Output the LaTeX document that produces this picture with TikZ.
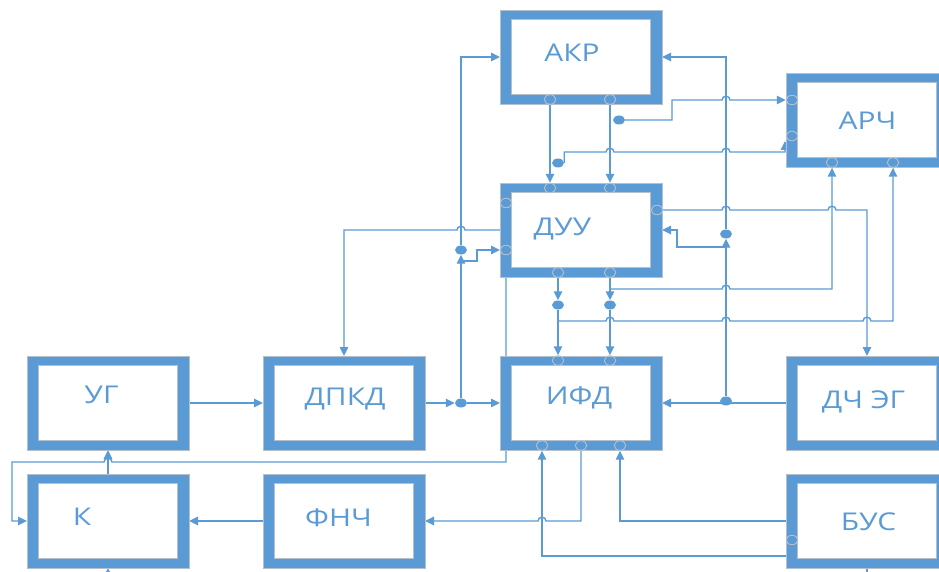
\documentclass[tikz,border=0pt]{standalone}
\usepackage{fontspec}
\newfontfamily\lblfont{Open Sans}
\usetikzlibrary{arrows.meta,shapes.geometric,backgrounds}
\definecolor{bb}{HTML}{5B9BD5}
\definecolor{pg}{HTML}{B4C0CC}
\newcommand\hr[2]{-- ({#1-4},#2) .. controls ({#1-4},{#2-5}) and ({#1+4},{#2-5}) .. ({#1+4},#2)}
\newcommand\hl[2]{-- ({#1+4},#2) .. controls ({#1+4},{#2-5}) and ({#1-4},{#2-5}) .. ({#1-4},#2)}
\newcommand\lb[1]{\scalebox{1.22}[1]{#1}}
\begin{document}
\begin{tikzpicture}[x=1pt,y=-1pt,
  blk/.style={fill=bb, draw=pg, line width=0.4pt, minimum width=162pt, minimum height=94pt,
    inner sep=0pt, outer sep=0pt,
    path picture={\fill[white,draw=pg,line width=0.6pt]
      ([xshift=11.5pt,yshift=-9.5pt]path picture bounding box.north west) rectangle
      ([xshift=-11.5pt,yshift=9.5pt]path picture bounding box.south east);}},
  lbl/.style={text=bb, font=\lblfont\fontsize{24.5}{28}\selectfont, inner sep=0pt,
    text height=17pt, text depth=0pt},
  con/.style={draw=bb, line width=1.4pt},
  arr/.style={con, -{Triangle[length=9pt,width=8.5pt]}},
  port/.style={ellipse, draw=pg, line width=0.9pt, minimum width=11.5pt, minimum height=9.5pt, inner sep=0pt},
  jdot/.style={ellipse, fill=bb, minimum width=12pt, minimum height=9pt, inner sep=0pt}]
\useasboundingbox (0,0) rectangle (939,572);
\clip (0,0) rectangle (939,572);
\begin{scope}[on background layer]
\fill[white] (0,0) rectangle (939,572);
\end{scope}

% blocks
\node[blk] (akr) at (581,57) {};
\node[blk] (duu) at (581,230) {};
\node[blk] (ifd) at (581,403) {};
\node[blk] (arc) at (867,120) {};
\node[blk] (dch) at (867,403) {};
\node[blk] (bus) at (867,521) {};
\node[blk] (ug) at (108,403) {};
\node[blk] (dpkd) at (344,403) {};
\node[blk] (k) at (108,521) {};
\node[blk] (fnch) at (344,521) {};

% labels
\node[lbl] (takr) at (572,53.5) {\lb{АКР}};
\node[lbl] (tarc) at (867.5,121) {\lb{АРЧ}};
\node[lbl] (tduu) at (562.5,226.5) {\lb{ДУУ}};
\node[lbl] (tifd) at (579,396) {\lb{ИФД}};
\node[lbl] (tdch) at (863.5,400) {\lb{ДЧ ЭГ}};
\node[lbl] (tug) at (101.5,395) {\lb{УГ}};
\node[lbl] (tdpkd) at (345,397) {\lb{ДПКД}};
\node[lbl] (tk) at (82,516.5) {\lb{К}};
\node[lbl] (tfnch) at (338.5,517.5) {\lb{ФНЧ}};
\node[lbl] (tbus) at (868.5,521.5) {\lb{БУС}};

% ports
\node[port] (akrb1) at (550,99.5) {};
\node[port] (akrb2) at (610,99.5) {};
\node[port] (duut1) at (550,188) {};
\node[port] (duut2) at (610,188) {};
\node[port] (duul1) at (506,203) {};
\node[port] (duul2) at (506,250) {};
\node[port] (duur) at (657,210) {};
\node[port] (duub1) at (558,272.5) {};
\node[port] (duub2) at (610,272.5) {};
\node[port] (ifdt1) at (558,360.5) {};
\node[port] (ifdt2) at (610,360.5) {};
\node[port] (ifdb1) at (542,445.5) {};
\node[port] (ifdb2) at (581,445.5) {};
\node[port] (ifdb3) at (620,445.5) {};
\node[port] (arcl1) at (792,100) {};
\node[port] (arcl2) at (792,136) {};
\node[port] (arcb1) at (832,162.5) {};
\node[port] (arcb2) at (893,162.5) {};
\node[port] (busl) at (792,540) {};

% junction dots
\node[jdot] (d1) at (558,305) {};
\node[jdot] (d2) at (610,305) {};
\node[jdot] (dL) at (461,403) {};
\node[jdot] (dU) at (461,250) {};
\node[jdot] (dR) at (726,401) {};
\node[jdot] (dR2) at (726,234) {};
\node[jdot] (dA) at (619,120) {};
\node[jdot] (dB) at (558,163) {};

\begin{scope}[on background layer]
% АКР -> ДУУ
\draw[arr] (akrb1.south) -- (duut1.north);
\draw[arr] (akrb2.south) -- (duut2.north);
% ДУУ -> dots -> ИФД
\draw[arr] (duub1.south) -- (d1.north);
\draw[arr] (d1.south) -- (ifdt1.north);
\draw[arr] (duub2.south) -- (d2.north);
\draw[arr] (d2.south) -- (ifdt2.north);
% branches to АРЧ bottom
\draw[arr] (duub2 |- 0,289) \hr{726}{289} -- (arcb1 |- 0,289) -- (arcb1.south);
\draw[arr] (d1 |- 0,321) \hr{610}{321} \hr{726}{321} \hr{867}{321} -- (arcb2 |- 0,321) -- (arcb2.south);
% ДУУ right port -> ДЧ ЭГ
\draw[arr] (duur.east) \hr{726}{210} \hr{832}{210} -- (dch.north |- 0,210) -- (dch.north);
% ДПКД -> ИФД
\draw[arr] (dpkd.east) -- (dL.west);
\draw[arr] (dL.east) -- (ifd.west);
\draw[arr] (dL.north) -- (dU.south);
\draw[arr] (dU.north) -- (dU |- akr.west) -- (akr.west);
\draw[arr] (dU |- 0,261) -- (477,261) -- (477,250) -- (duu.west |- duul2);
% ДУУ -> ДПКД
\draw[arr] (duu.west) \hl{461}{230} -- (dpkd.north |- duu.west) -- (dpkd.north);
% ДЧ ЭГ -> ИФД
\draw[arr] (dch.west) -- (ifd.east);
\draw[arr] (dR.north) -- (dR2.south);
\draw[arr] (dR2.north) -- (dR2 |- akr.east) -- (akr.east);
\draw[arr] (dR2 |- 0,247) -- (677,247) -- (677,230) -- (duu.east);
% dots -> АРЧ left
\draw[arr] (dA.east) -- (672,120) -- (672,100) \hr{726}{100} -- (arcl1.west);
\draw[arr] (dB.east) -- (dB.east |- 0,152) \hr{610}{152} \hr{726}{152} -- (785,152) -- (785,141);
% ДУУ -> К
\draw[arr] (duu.south -| 506,0) -- (506,462) \hl{108}{462} -- (12,462) -- (12,521) -- (k.west);
% lower blocks
\draw[arr] (k.north) -- (ug.south);
\draw[arr] (ug.east) -- (dpkd.west);
\draw[arr] (fnch.west) -- (k.east);
\draw[arr] (ifdb2.south) -- (ifdb2 |- fnch.east) \hl{542}{521} -- (fnch.east);
\draw[arr] (bus.west) -- (ifdb3 |- bus.west) -- (ifdb3.south);
\draw[arr] (bus.west |- 0,556) -- (ifdb1 |- 0,556) -- (ifdb1.south);
\draw[arr] (k.south |- 0,582) -- (k.south);
\draw[con] (bus.south) -- (bus.south |- 0,585);
\end{scope}
\end{tikzpicture}
\end{document}
